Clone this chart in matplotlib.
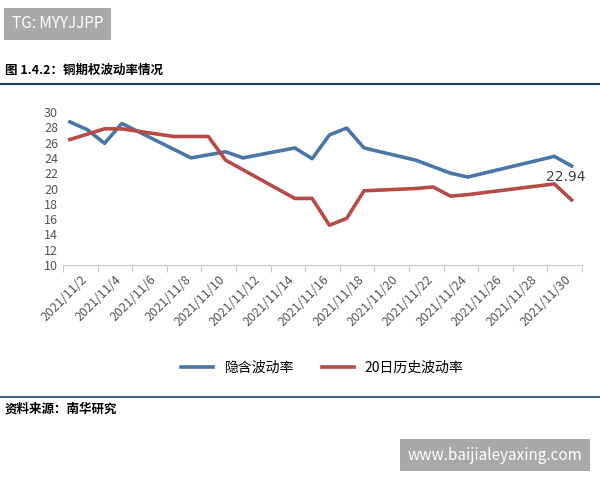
import matplotlib
matplotlib.use("Agg")
import matplotlib.pyplot as plt

plt.rcParams['font.family'] = ['Noto Sans CJK SC', 'DejaVu Sans']

blue_days = [1, 2, 3, 4, 8, 10, 11, 14, 15, 16, 17, 18, 21, 23, 24, 29, 30]
blue_vals = [28.7, 27.7, 25.9, 28.5, 24.0, 24.8, 24.0, 25.3, 23.9, 27.0, 27.9, 25.3, 23.7, 22.0, 21.5, 24.2, 22.94]
red_days = [1, 3, 4, 7, 9, 10, 14, 15, 16, 17, 18, 21, 22, 23, 24, 29, 30]
red_vals = [26.4, 27.8, 27.8, 26.8, 26.8, 23.7, 18.7, 18.7, 15.2, 16.1, 19.7, 20.0, 20.2, 19.0, 19.2, 20.6, 18.5]
tick_labels = ["2021/11/%d" % d for d in range(2, 31, 2)]
series_names = ["隐含波动率", "20日历史波动率"]

top, bottom, left, right = 112, 265, 63, 582
fig = plt.figure(figsize=(6, 4.8), dpi=100)
ax = fig.add_axes([left/600, 1-bottom/480, (right-left)/600, (bottom-top)/480])
ax.plot(blue_days, blue_vals, color="#4a77a8", lw=2.6, label=series_names[0])
ax.plot(red_days, red_vals, color="#b84a48", lw=2.6, label=series_names[1])
ax.annotate("22.94", (blue_days[-1], blue_vals[-1]), xytext=(-4, -3), textcoords="offset points",
            ha="center", va="top", fontsize=10, color="#404040", family="DejaVu Sans")
x0 = 0.6
ax.set_xlim(x0, x0 + 30)
ax.set_ylim(10, 30)
ax.set_yticks(range(10, 31, 2))
ax.set_xticks([x0 + 2*i for i in range(16)])
ax.set_xticks([x0 + 1 + 2*i for i in range(15)], minor=True)
ax.set_xticklabels([])
ax.set_xticklabels(tick_labels, minor=True, rotation=45, ha="right", rotation_mode="anchor")
ax.tick_params(axis="x", which="major", length=5, color="#c8c8c8", direction="out")
ax.tick_params(axis="x", which="minor", length=0, labelsize=9, colors="#555555", pad=6)
ax.tick_params(axis="y", length=0, labelsize=9, colors="#555555")
for s in ["top", "right", "left"]:
    ax.spines[s].set_visible(False)
ax.spines["bottom"].set_color("#c8c8c8")
ax.legend(loc="center", bbox_to_anchor=(0.5, -(368-bottom)/(bottom-top)), ncol=2, frameon=False,
          fontsize=10, handlelength=2.3)

fig.text(5/600, 1-70/480, "图 1.4.2：铜期权波动率情况", fontsize=9, fontweight="bold", va="center")
fig.add_artist(plt.Line2D([0, 1], [1-84/480]*2, color="#1f3f6e", lw=1.5))
fig.add_artist(plt.Line2D([0, 1], [1-397/480]*2, color="#1f3f6e", lw=1.2))
fig.text(5/600, 1-409/480, "资料来源：南华研究", fontsize=9, fontweight="bold", va="center")
fig.text(12/600, 1-24/480, "TG: MYYJJPP", fontsize=11, color="white", va="center",
         bbox=dict(boxstyle="square,pad=0.5", fc="#a9a9a9", ec="none"))
fig.text(408/600, 1-455/480, "www.baijialeyaxing.com", fontsize=11, color="white", va="center",
         bbox=dict(boxstyle="square,pad=0.5", fc="#a9a9a9", ec="none"))
fig.savefig("out.png", dpi=100)
